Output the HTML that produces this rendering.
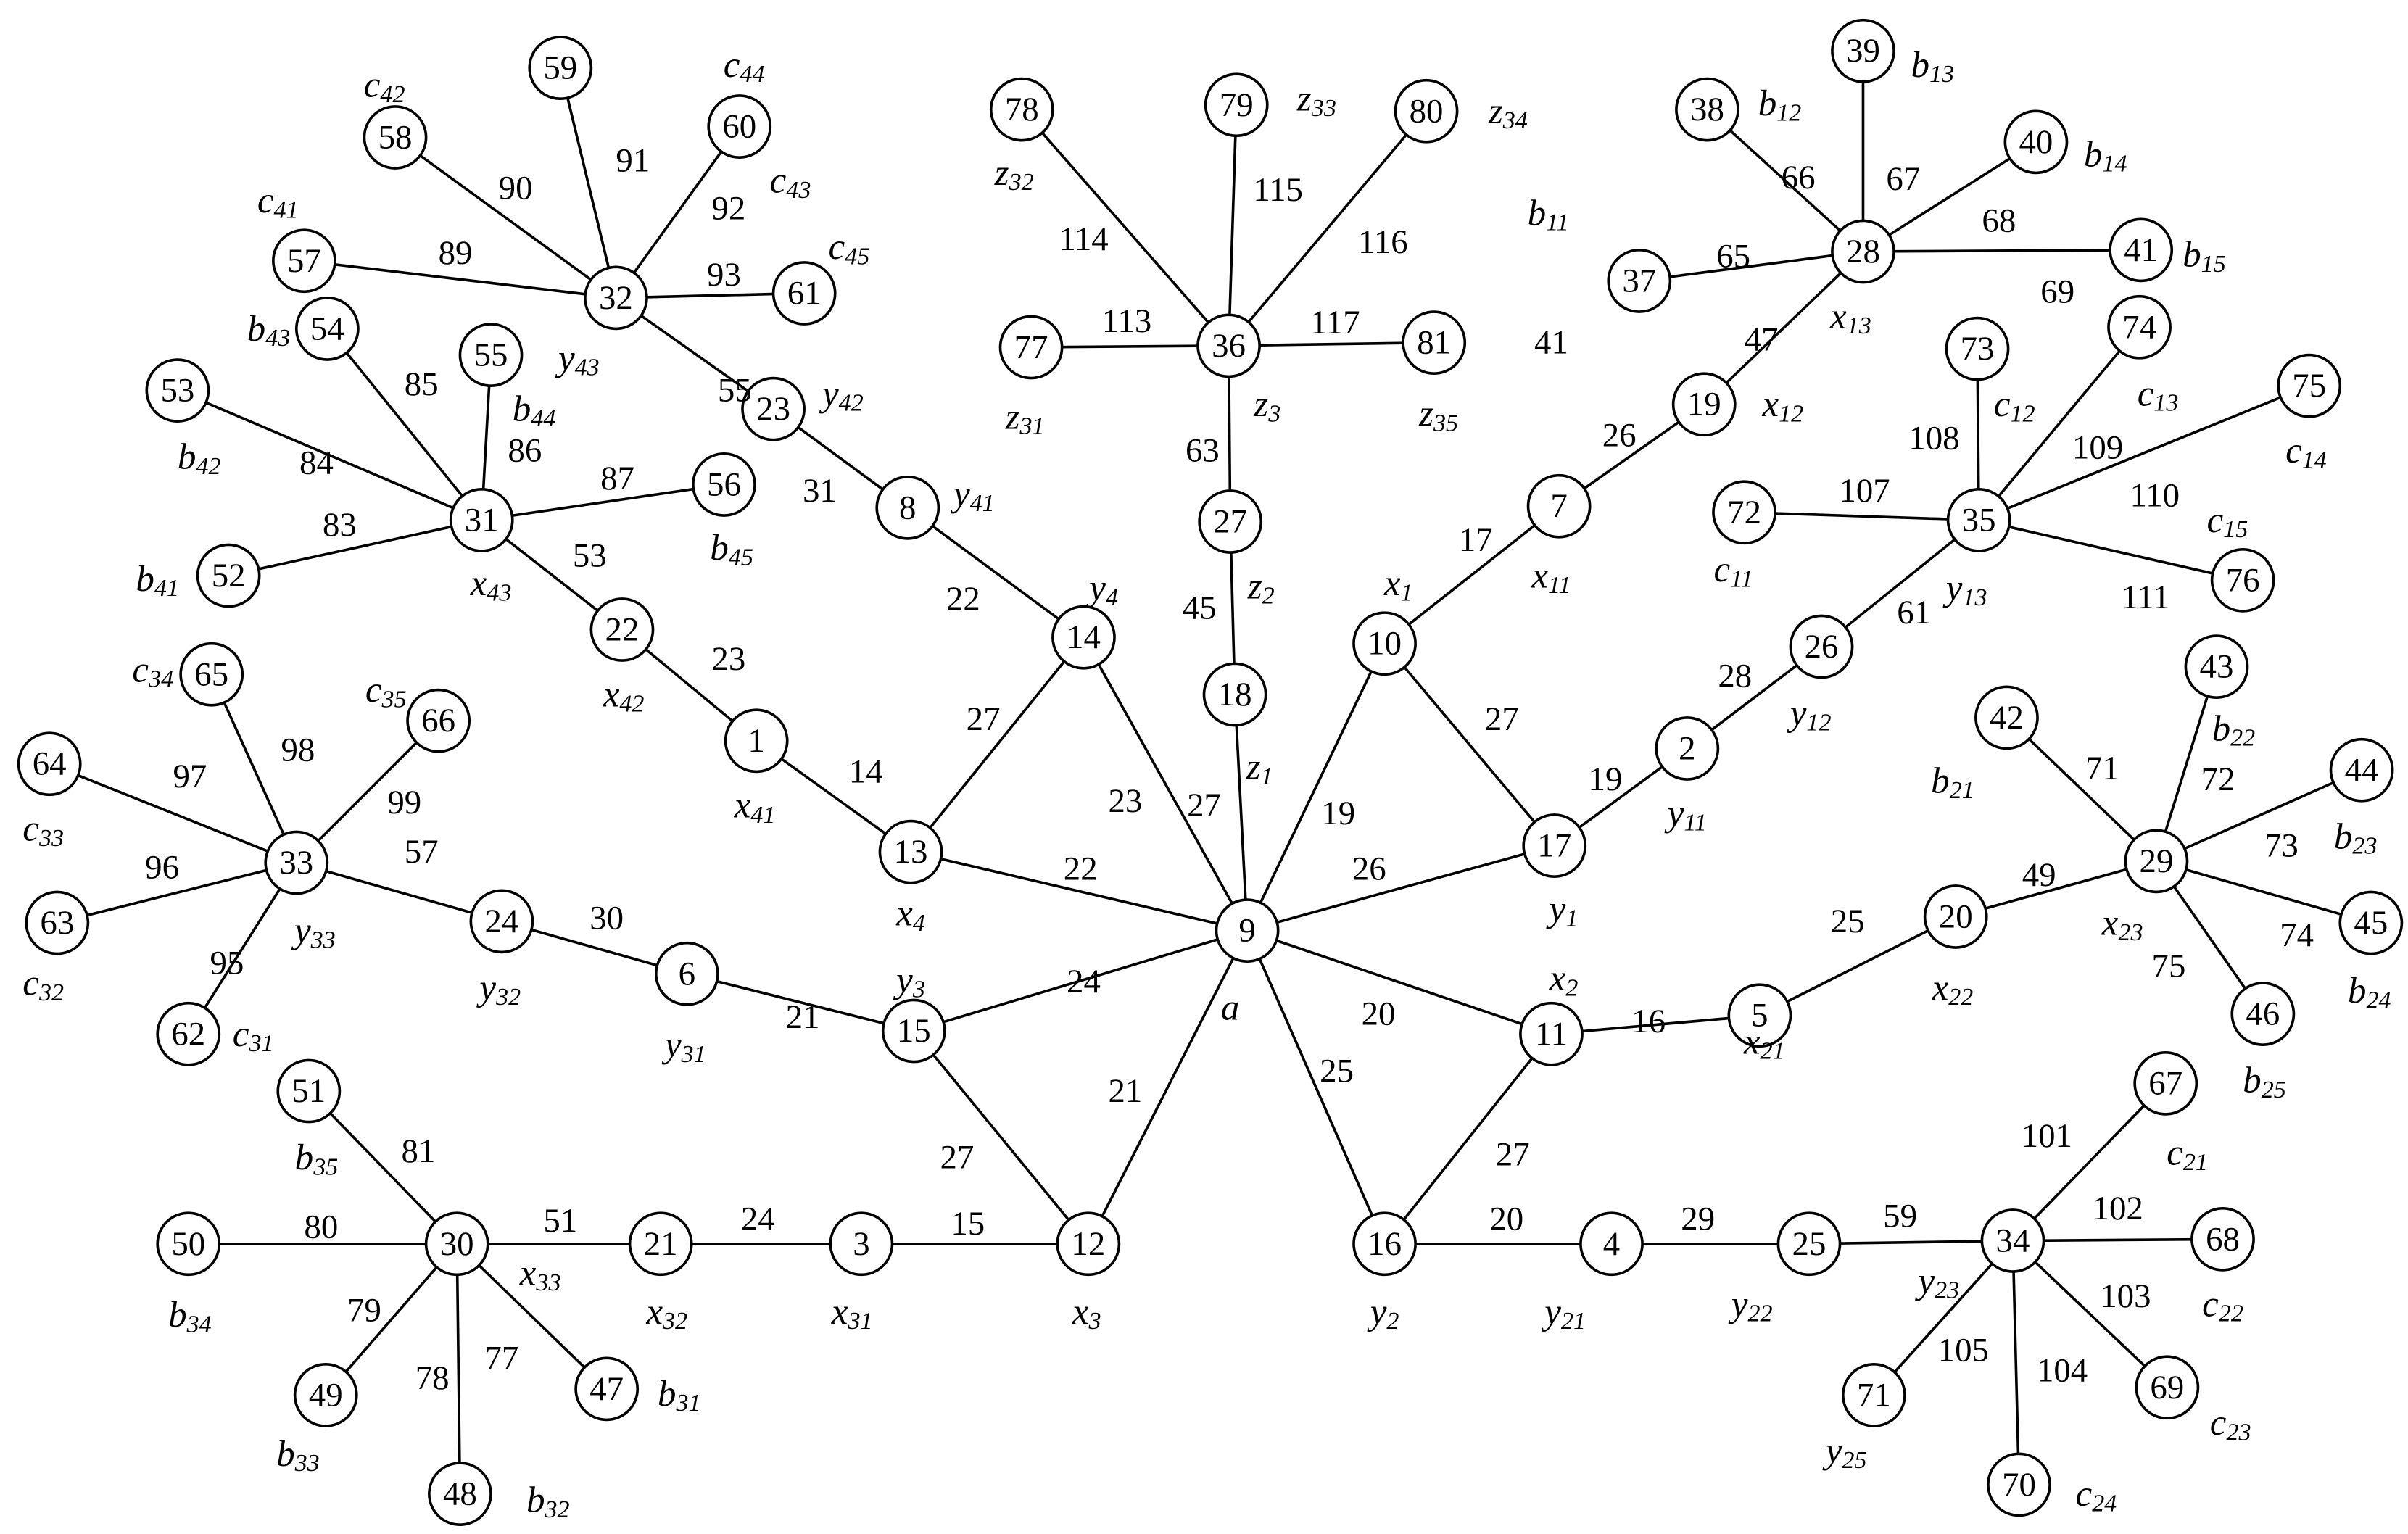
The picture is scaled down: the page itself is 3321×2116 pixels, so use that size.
<!DOCTYPE html>
<html><head><meta charset="utf-8"><style>
html,body{margin:0;padding:0;background:#fff}
svg{display:block}
text{font-family:"Liberation Serif",serif;font-size:22px;fill:#000;text-anchor:middle;dominant-baseline:central}
text.v{font-style:italic;font-size:24px}
</style></head><body>
<svg id="s" width="3321" height="2116" viewBox="0 0 1560 994" xmlns="http://www.w3.org/2000/svg">
<g id="lines" stroke="#000" stroke-width="1.7"></g>
<g id="circles" fill="#fff" stroke="#000" stroke-width="1.7"></g>
<g id="nums">
<text x="808" y="603">9</text><text x="590" y="552">13</text><text x="702" y="413">14</text><text x="592" y="668">15</text><text x="705" y="806">12</text><text x="897" y="806">16</text><text x="1005" y="670">11</text><text x="1007" y="548">17</text><text x="897" y="417">10</text><text x="800" y="450">18</text><text x="797" y="338">27</text><text x="796" y="224">36</text><text x="801" y="68">79</text><text x="924" y="72">80</text><text x="662" y="71">78</text><text x="668" y="225">77</text><text x="929" y="222">81</text><text x="490" y="480">1</text><text x="403" y="408">22</text><text x="312" y="337">31</text><text x="588" y="329">8</text><text x="501" y="265">23</text><text x="399" y="193">32</text><text x="363" y="44">59</text><text x="479" y="82">60</text><text x="521" y="190">61</text><text x="256" y="89">58</text><text x="197" y="169">57</text><text x="212" y="213">54</text><text x="318" y="230">55</text><text x="115" y="253">53</text><text x="148" y="373">52</text><text x="469" y="314">56</text><text x="445" y="631">6</text><text x="325" y="597">24</text><text x="192" y="559">33</text><text x="137" y="437">65</text><text x="284" y="467">66</text><text x="32" y="495">64</text><text x="37" y="598">63</text><text x="122" y="670">62</text><text x="558" y="806">3</text><text x="428" y="806">21</text><text x="296" y="806">30</text><text x="200" y="707">51</text><text x="122" y="806">50</text><text x="211" y="904">49</text><text x="298" y="968">48</text><text x="393" y="900">47</text><text x="1044" y="806">4</text><text x="1172" y="806">25</text><text x="1304" y="804">34</text><text x="1403" y="702">67</text><text x="1440" y="803">68</text><text x="1404" y="899">69</text><text x="1308" y="962">70</text><text x="1214" y="904">71</text><text x="1140" y="658">5</text><text x="1267" y="594">20</text><text x="1397" y="558">29</text><text x="1300" y="465">42</text><text x="1436" y="432">43</text><text x="1530" y="499">44</text><text x="1536" y="598">45</text><text x="1466" y="657">46</text><text x="1093" y="485">2</text><text x="1180" y="419">26</text><text x="1282" y="337">35</text><text x="1130" y="332">72</text><text x="1281" y="226">73</text><text x="1386" y="212">74</text><text x="1496" y="250">75</text><text x="1453" y="376">76</text><text x="1010" y="328">7</text><text x="1104" y="262">19</text><text x="1207" y="163">28</text><text x="1062" y="182">37</text><text x="1106" y="71">38</text><text x="1207" y="33">39</text><text x="1319" y="92">40</text><text x="1387" y="162">41</text>
</g>
<g id="elab">
<text x="700" y="563">22</text><text x="729" y="519">23</text><text x="780" y="522">27</text><text x="867" y="527">19</text><text x="887" y="563">26</text><text x="702" y="636">24</text><text x="729" y="707">21</text><text x="866" y="694">25</text><text x="893" y="657">20</text>
<text x="637" y="466">27</text><text x="620" y="750">27</text><text x="980" y="748">27</text><text x="973" y="466">27</text>
<text x="561" y="500">14</text><text x="472" y="427">23</text><text x="382" y="360">53</text><text x="624" y="388">22</text><text x="531" y="318">31</text><text x="476" y="253">55</text><text x="777" y="394">45</text><text x="779" y="292">63</text><text x="956" y="350">17</text><text x="1049" y="282">26</text><text x="1141" y="220">47</text><text x="1040" y="505">19</text><text x="1124" y="438">28</text><text x="1240" y="397">61</text><text x="1068" y="662">16</text><text x="1197" y="597">25</text><text x="1321" y="567">49</text><text x="520" y="659">21</text><text x="393" y="595">30</text><text x="273" y="552">57</text><text x="627" y="793">15</text><text x="491" y="790">24</text><text x="363" y="791">51</text><text x="976" y="790">20</text><text x="1100" y="790">29</text><text x="1231" y="788">59</text>
<text x="730" y="208">113</text><text x="702" y="155">114</text><text x="828" y="123">115</text><text x="896" y="157">116</text><text x="865" y="209">117</text>
<text x="334" y="122">90</text><text x="410" y="104">91</text><text x="472" y="135">92</text><text x="295" y="164">89</text><text x="469" y="178">93</text>
<text x="273" y="249">85</text><text x="340" y="292">86</text><text x="205" y="300">84</text><text x="220" y="340">83</text><text x="400" y="310">87</text>
<text x="123" y="503">97</text><text x="193" y="486">98</text><text x="262" y="520">99</text><text x="105" y="562">96</text><text x="147" y="624">95</text>
<text x="271" y="746">81</text><text x="208" y="795">80</text><text x="236" y="849">79</text><text x="280" y="893">78</text><text x="325" y="880">77</text>
<text x="1326" y="736">101</text><text x="1372" y="783">102</text><text x="1377" y="840">103</text><text x="1336" y="888">104</text><text x="1272" y="875">105</text>
<text x="1362" y="498">71</text><text x="1437" y="505">72</text><text x="1478" y="548">73</text><text x="1488" y="606">74</text><text x="1405" y="626">75</text>
<text x="1208" y="318">107</text><text x="1253" y="284">108</text><text x="1359" y="290">109</text><text x="1396" y="321">110</text><text x="1390" y="387">111</text>
<text x="1123" y="166">65</text><text x="1165" y="115">66</text><text x="1233" y="116">67</text><text x="1295" y="143">68</text><text x="1333" y="189">69</text>
<text x="1005" y="222">41</text>
</g>
<g>
<text class="v" x="797" y="653">a</text>
<text class="v" x="590" y="592">x<tspan dy="6" font-size="16">4</tspan></text>
<text class="v" x="715" y="381">y<tspan dy="6" font-size="16">4</tspan></text>
<text class="v" x="590" y="635">y<tspan dy="6" font-size="16">3</tspan></text>
<text class="v" x="704" y="850">x<tspan dy="6" font-size="16">3</tspan></text>
<text class="v" x="897" y="850">y<tspan dy="6" font-size="16">2</tspan></text>
<text class="v" x="1013" y="634">x<tspan dy="6" font-size="16">2</tspan></text>
<text class="v" x="1013" y="589">y<tspan dy="6" font-size="16">1</tspan></text>
<text class="v" x="906" y="378">x<tspan dy="6" font-size="16">1</tspan></text>
<text class="v" x="816" y="497">z<tspan dy="6" font-size="16">1</tspan></text>
<text class="v" x="817" y="380">z<tspan dy="6" font-size="16">2</tspan></text>
<text class="v" x="821" y="262">z<tspan dy="6" font-size="16">3</tspan></text>
<text class="v" x="664" y="270">z<tspan dy="6" font-size="16">31</tspan></text>
<text class="v" x="657" y="112">z<tspan dy="6" font-size="16">32</tspan></text>
<text class="v" x="853" y="64">z<tspan dy="6" font-size="16">33</tspan></text>
<text class="v" x="977" y="72">z<tspan dy="6" font-size="16">34</tspan></text>
<text class="v" x="932" y="268">z<tspan dy="6" font-size="16">35</tspan></text>
<text class="v" x="489" y="522">x<tspan dy="6" font-size="16">41</tspan></text>
<text class="v" x="404" y="450">x<tspan dy="6" font-size="16">42</tspan></text>
<text class="v" x="318" y="378">x<tspan dy="6" font-size="16">43</tspan></text>
<text class="v" x="631" y="320">y<tspan dy="6" font-size="16">41</tspan></text>
<text class="v" x="546" y="255">y<tspan dy="6" font-size="16">42</tspan></text>
<text class="v" x="375" y="232">y<tspan dy="6" font-size="16">43</tspan></text>
<text class="v" x="482" y="42">c<tspan dy="6" font-size="16">44</tspan></text>
<text class="v" x="512" y="117">c<tspan dy="6" font-size="16">43</tspan></text>
<text class="v" x="249" y="55">c<tspan dy="6" font-size="16">42</tspan></text>
<text class="v" x="180" y="130">c<tspan dy="6" font-size="16">41</tspan></text>
<text class="v" x="550" y="160">c<tspan dy="6" font-size="16">45</tspan></text>
<text class="v" x="174" y="213">b<tspan dy="6" font-size="16">43</tspan></text>
<text class="v" x="346" y="265">b<tspan dy="6" font-size="16">44</tspan></text>
<text class="v" x="129" y="296">b<tspan dy="6" font-size="16">42</tspan></text>
<text class="v" x="102" y="375">b<tspan dy="6" font-size="16">41</tspan></text>
<text class="v" x="474" y="355">b<tspan dy="6" font-size="16">45</tspan></text>
<text class="v" x="444" y="677">y<tspan dy="6" font-size="16">31</tspan></text>
<text class="v" x="324" y="640">y<tspan dy="6" font-size="16">32</tspan></text>
<text class="v" x="204" y="603">y<tspan dy="6" font-size="16">33</tspan></text>
<text class="v" x="99" y="434">c<tspan dy="6" font-size="16">34</tspan></text>
<text class="v" x="250" y="447">c<tspan dy="6" font-size="16">35</tspan></text>
<text class="v" x="28" y="537">c<tspan dy="6" font-size="16">33</tspan></text>
<text class="v" x="28" y="637">c<tspan dy="6" font-size="16">32</tspan></text>
<text class="v" x="164" y="670">c<tspan dy="6" font-size="16">31</tspan></text>
<text class="v" x="552" y="850">x<tspan dy="6" font-size="16">31</tspan></text>
<text class="v" x="432" y="850">x<tspan dy="6" font-size="16">32</tspan></text>
<text class="v" x="350" y="825">x<tspan dy="6" font-size="16">33</tspan></text>
<text class="v" x="205" y="750">b<tspan dy="6" font-size="16">35</tspan></text>
<text class="v" x="123" y="852">b<tspan dy="6" font-size="16">34</tspan></text>
<text class="v" x="193" y="942">b<tspan dy="6" font-size="16">33</tspan></text>
<text class="v" x="355" y="972">b<tspan dy="6" font-size="16">32</tspan></text>
<text class="v" x="440" y="903">b<tspan dy="6" font-size="16">31</tspan></text>
<text class="v" x="1014" y="850">y<tspan dy="6" font-size="16">21</tspan></text>
<text class="v" x="1135" y="845">y<tspan dy="6" font-size="16">22</tspan></text>
<text class="v" x="1256" y="830">y<tspan dy="6" font-size="16">23</tspan></text>
<text class="v" x="1417" y="747">c<tspan dy="6" font-size="16">21</tspan></text>
<text class="v" x="1440" y="845">c<tspan dy="6" font-size="16">22</tspan></text>
<text class="v" x="1445" y="922">c<tspan dy="6" font-size="16">23</tspan></text>
<text class="v" x="1358" y="968">c<tspan dy="6" font-size="16">24</tspan></text>
<text class="v" x="1196" y="940">y<tspan dy="6" font-size="16">25</tspan></text>
<text class="v" x="1143" y="675">x<tspan dy="6" font-size="16">21</tspan></text>
<text class="v" x="1265" y="640">x<tspan dy="6" font-size="16">22</tspan></text>
<text class="v" x="1375" y="598">x<tspan dy="6" font-size="16">23</tspan></text>
<text class="v" x="1265" y="506">b<tspan dy="6" font-size="16">21</tspan></text>
<text class="v" x="1447" y="472">b<tspan dy="6" font-size="16">22</tspan></text>
<text class="v" x="1526" y="542">b<tspan dy="6" font-size="16">23</tspan></text>
<text class="v" x="1535" y="642">b<tspan dy="6" font-size="16">24</tspan></text>
<text class="v" x="1467" y="700">b<tspan dy="6" font-size="16">25</tspan></text>
<text class="v" x="1093" y="527">y<tspan dy="6" font-size="16">11</tspan></text>
<text class="v" x="1173" y="462">y<tspan dy="6" font-size="16">12</tspan></text>
<text class="v" x="1274" y="381">y<tspan dy="6" font-size="16">13</tspan></text>
<text class="v" x="1123" y="369">c<tspan dy="6" font-size="16">11</tspan></text>
<text class="v" x="1305" y="262">c<tspan dy="6" font-size="16">12</tspan></text>
<text class="v" x="1398" y="255">c<tspan dy="6" font-size="16">13</tspan></text>
<text class="v" x="1494" y="292">c<tspan dy="6" font-size="16">14</tspan></text>
<text class="v" x="1443" y="337">c<tspan dy="6" font-size="16">15</tspan></text>
<text class="v" x="1005" y="373">x<tspan dy="6" font-size="16">11</tspan></text>
<text class="v" x="1155" y="262">x<tspan dy="6" font-size="16">12</tspan></text>
<text class="v" x="1199" y="205">x<tspan dy="6" font-size="16">13</tspan></text>
<text class="v" x="1153" y="67">b<tspan dy="6" font-size="16">12</tspan></text>
<text class="v" x="1252" y="42">b<tspan dy="6" font-size="16">13</tspan></text>
<text class="v" x="1364" y="100">b<tspan dy="6" font-size="16">14</tspan></text>
<text class="v" x="1428" y="165">b<tspan dy="6" font-size="16">15</tspan></text>
<text class="v" x="1003" y="138">b<tspan dy="6" font-size="16">11</tspan></text>
</g>
</svg>
<script>
(function(){
var N={9:[808,603],13:[590,552],14:[702,413],15:[592,668],12:[705,806],16:[897,806],11:[1005,670],17:[1007,548],10:[897,417],18:[800,450],27:[797,338],36:[796,224],79:[801,68],80:[924,72],78:[662,71],77:[668,225],81:[929,222],1:[490,480],22:[403,408],31:[312,337],8:[588,329],23:[501,265],32:[399,193],59:[363,44],60:[479,82],61:[521,190],58:[256,89],57:[197,169],54:[212,213],55:[318,230],53:[115,253],52:[148,373],56:[469,314],6:[445,631],24:[325,597],33:[192,559],65:[137,437],66:[284,467],64:[32,495],63:[37,598],62:[122,670],3:[558,806],21:[428,806],30:[296,806],51:[200,707],50:[122,806],49:[211,904],48:[298,968],47:[393,900],4:[1044,806],25:[1172,806],34:[1304,804],67:[1403,702],68:[1440,803],69:[1404,899],70:[1308,962],71:[1214,904],5:[1140,658],20:[1267,594],29:[1397,558],42:[1300,465],43:[1436,432],44:[1530,499],45:[1536,598],46:[1466,657],2:[1093,485],26:[1180,419],35:[1282,337],72:[1130,332],73:[1281,226],74:[1386,212],75:[1496,250],76:[1453,376],7:[1010,328],19:[1104,262],28:[1207,163],37:[1062,182],38:[1106,71],39:[1207,33],40:[1319,92],41:[1387,162]};
var E="9-13 9-14 9-15 9-12 9-16 9-11 9-17 9-10 9-18 13-14 15-12 16-11 10-17 13-1 1-22 22-31 14-8 8-23 23-32 18-27 27-36 36-77 36-78 36-79 36-80 36-81 32-59 32-60 32-61 32-58 32-57 31-54 31-55 31-53 31-52 31-56 15-6 6-24 24-33 33-65 33-66 33-64 33-63 33-62 12-3 3-21 21-30 30-51 30-50 30-49 30-48 30-47 16-4 4-25 25-34 34-67 34-68 34-69 34-70 34-71 11-5 5-20 20-29 29-42 29-43 29-44 29-45 29-46 17-2 2-26 26-35 35-72 35-73 35-74 35-75 35-76 10-7 7-19 19-28 28-37 28-38 28-39 28-40 28-41".split(" ");
var ns="http://www.w3.org/2000/svg",L=document.getElementById("lines"),C=document.getElementById("circles");
E.forEach(function(e){var p=e.split("-"),a=N[p[0]],b=N[p[1]],l=document.createElementNS(ns,"line");l.setAttribute("x1",a[0]);l.setAttribute("y1",a[1]);l.setAttribute("x2",b[0]);l.setAttribute("y2",b[1]);L.appendChild(l);});
for(var k in N){var c=document.createElementNS(ns,"circle");c.setAttribute("cx",N[k][0]);c.setAttribute("cy",N[k][1]);c.setAttribute("r",20);C.appendChild(c);}
})();
</script>
</body></html>
